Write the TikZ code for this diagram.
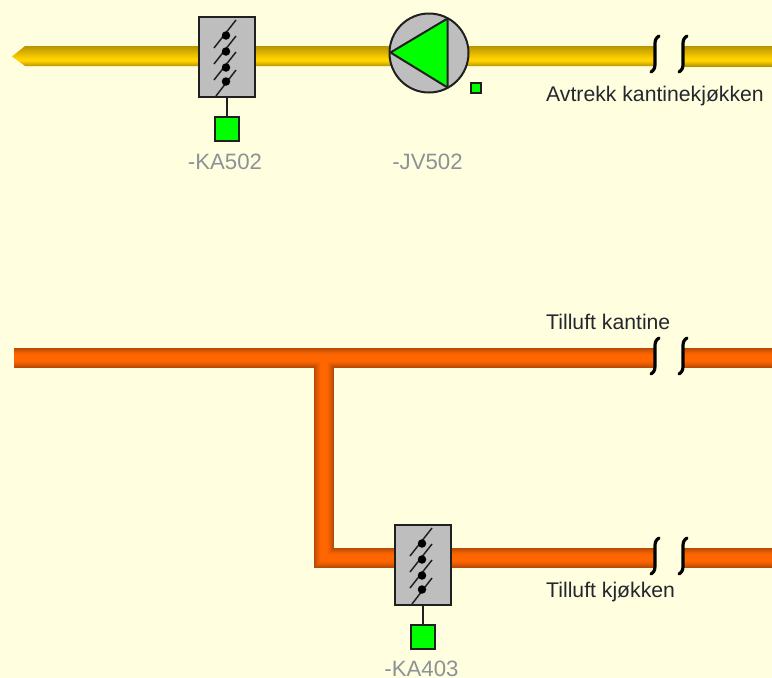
\documentclass[tikz,border=0pt]{standalone}
\usepackage{fontspec}
\setmainfont{Liberation Sans}
\definecolor{bgc}{HTML}{FFFFE0}
\definecolor{boxgray}{HTML}{BEBEBE}
\definecolor{edgec}{HTML}{202020}
\definecolor{vgreen}{HTML}{00FF00}
\definecolor{lblgray}{HTML}{8C9296}
\definecolor{lblblack}{HTML}{26262E}
\definecolor{ydark}{HTML}{B89400}
\definecolor{ybright}{HTML}{FFD200}
\definecolor{odark}{HTML}{B84A08}
\definecolor{obright}{HTML}{FF6600}
\pgfdeclareverticalshading{yellowpipe}{100bp}{color(0bp)=(ydark);color(25bp)=(ydark);color(38bp)=(ybright);color(44bp)=(ybright);color(75bp)=(ydark);color(100bp)=(ydark)}
\tikzset{
  valvebox/.style={draw=edgec,line width=2pt,fill=boxgray,minimum width=56pt,minimum height=80pt,inner sep=0pt},
  sqbox/.style={draw=edgec,line width=2pt,fill=vgreen,minimum width=24pt,minimum height=24pt,inner sep=0pt},
  smallsq/.style={draw=edgec,line width=1.5pt,fill=vgreen,minimum width=10pt,minimum height=10pt,inner sep=0pt},
  stem/.style={draw=edgec,line width=2pt},
  blade/.style={draw=edgec,line width=1.5pt},
  bdot/.style={circle,fill=black,minimum size=8.5pt,inner sep=0pt},
  breakmark/.style={draw=black,line width=3.2pt,line cap=round},
  taglabel/.style={text=lblgray,font=\fontsize{22.2}{24}\selectfont,inner sep=0pt},
  namelabel/.style={text=lblblack,font=\fontsize{21.2}{24}\selectfont,inner sep=0pt,anchor=base west},
}
\newcommand{\dampers}[1]{% blades inside a damper box, local origin = box top-left
  \begin{scope}[shift={#1}]
    \foreach \dy/\n in {4/a,20/b,36/c}{
      \coordinate (bl\n t) at (37,\dy);
      \coordinate (bl\n b) at (15,\dy+28);
      \draw[blade] (bl\n t) -- (bl\n b);
      \node[bdot] (bd\n) at (27,\dy+15.5) {};
    }
    \coordinate (bldt) at (37,54);
    \coordinate (bldb) at (17,80);
    \draw[blade] (bldt) -- (bldb);
    \node[bdot] (bdd) at (27,65.5) {};
  \end{scope}}
\newcommand{\breaks}[1]{% break marks, y relative to pipe centre
  \begin{scope}[shift={(0,#1)}]
    \foreach \bx/\n in {0/p,28/q}{
      \draw[breakmark] (659+\bx,-20) .. controls (656+\bx,-18) and (655+\bx,-16) .. (655+\bx,-12) -- (655+\bx,8) .. controls (655+\bx,12) and (654+\bx,14) .. (651+\bx,16);
    }
  \end{scope}}
\begin{document}
\begin{tikzpicture}[x=1pt,y=-1pt]
\useasboundingbox (0,0) rectangle (772,678);
\fill[bgc] (0,0) rectangle (772,678);

% yellow pipe
\path[shading=yellowpipe] (12,56.5) -- (25,46) -- (655,46) -- (655,66) -- (25,66) -- cycle;
\path[shading=yellowpipe] (683,46) rectangle (772,66);

% orange pipes: layers from the dark edge to the bright centre
\foreach \w/\m in {20/0,18/18,16/36,14/54,12/70,10/84,8/94,6/100}{
  \colorlet{lay}{obright!\m!odark}
  \draw[lay,line width=\w pt] (14,358) -- (655,358);
  \draw[lay,line width=\w pt] (683,358) -- (772,358);
}
\foreach \w/\m in {20/0,18/18,16/36,14/54,12/70,10/84,8/94,6/100}{
  \colorlet{lay}{obright!\m!odark}
  \draw[lay,line width=\w pt,miter limit=10] (324,{357+\w/2}) -- (324,558) -- (655,558);
  \draw[lay,line width=\w pt] (683,558) -- (772,558);
}

% break marks
\breaks{56}
\breaks{358}
\breaks{558}

% upper damper
\node[valvebox] (ka502) at (227,56.5) {};
\dampers{(199,16)}
\node[sqbox] (sq502) at (227,129) {};
\draw[stem] (ka502.south) -- (sq502.north);

% lower damper
\node[valvebox] (ka403) at (423,564.5) {};
\dampers{(395,524)}
\node[sqbox] (sq403) at (423,637) {};
\draw[stem] (ka403.south) -- (sq403.north);

% fan
\node[circle,draw=edgec,line width=2pt,fill=boxgray,minimum size=79pt,inner sep=0pt] (jv502) at (429,53) {};
\draw[draw=edgec,line width=2pt,fill=vgreen,line join=round] (390.5,52.5) -- (447.5,18.5) -- (447.5,87.5) -- cycle;
\node[smallsq] (sq502b) at (476,88) {};

% labels
\node[taglabel] (t1) at (225,162) {-KA502};
\node[taglabel] (t2) at (427.5,162) {-JV502};
\node[taglabel] (t3) at (421.5,668.5) {-KA403};
\node[namelabel] (n1) at (546,101) {Avtrekk kantinekjøkken};
\node[namelabel] (n2) at (546,329) {Tilluft kantine};
\node[namelabel] (n3) at (546,597) {Tilluft kjøkken};
\end{tikzpicture}
\end{document}
